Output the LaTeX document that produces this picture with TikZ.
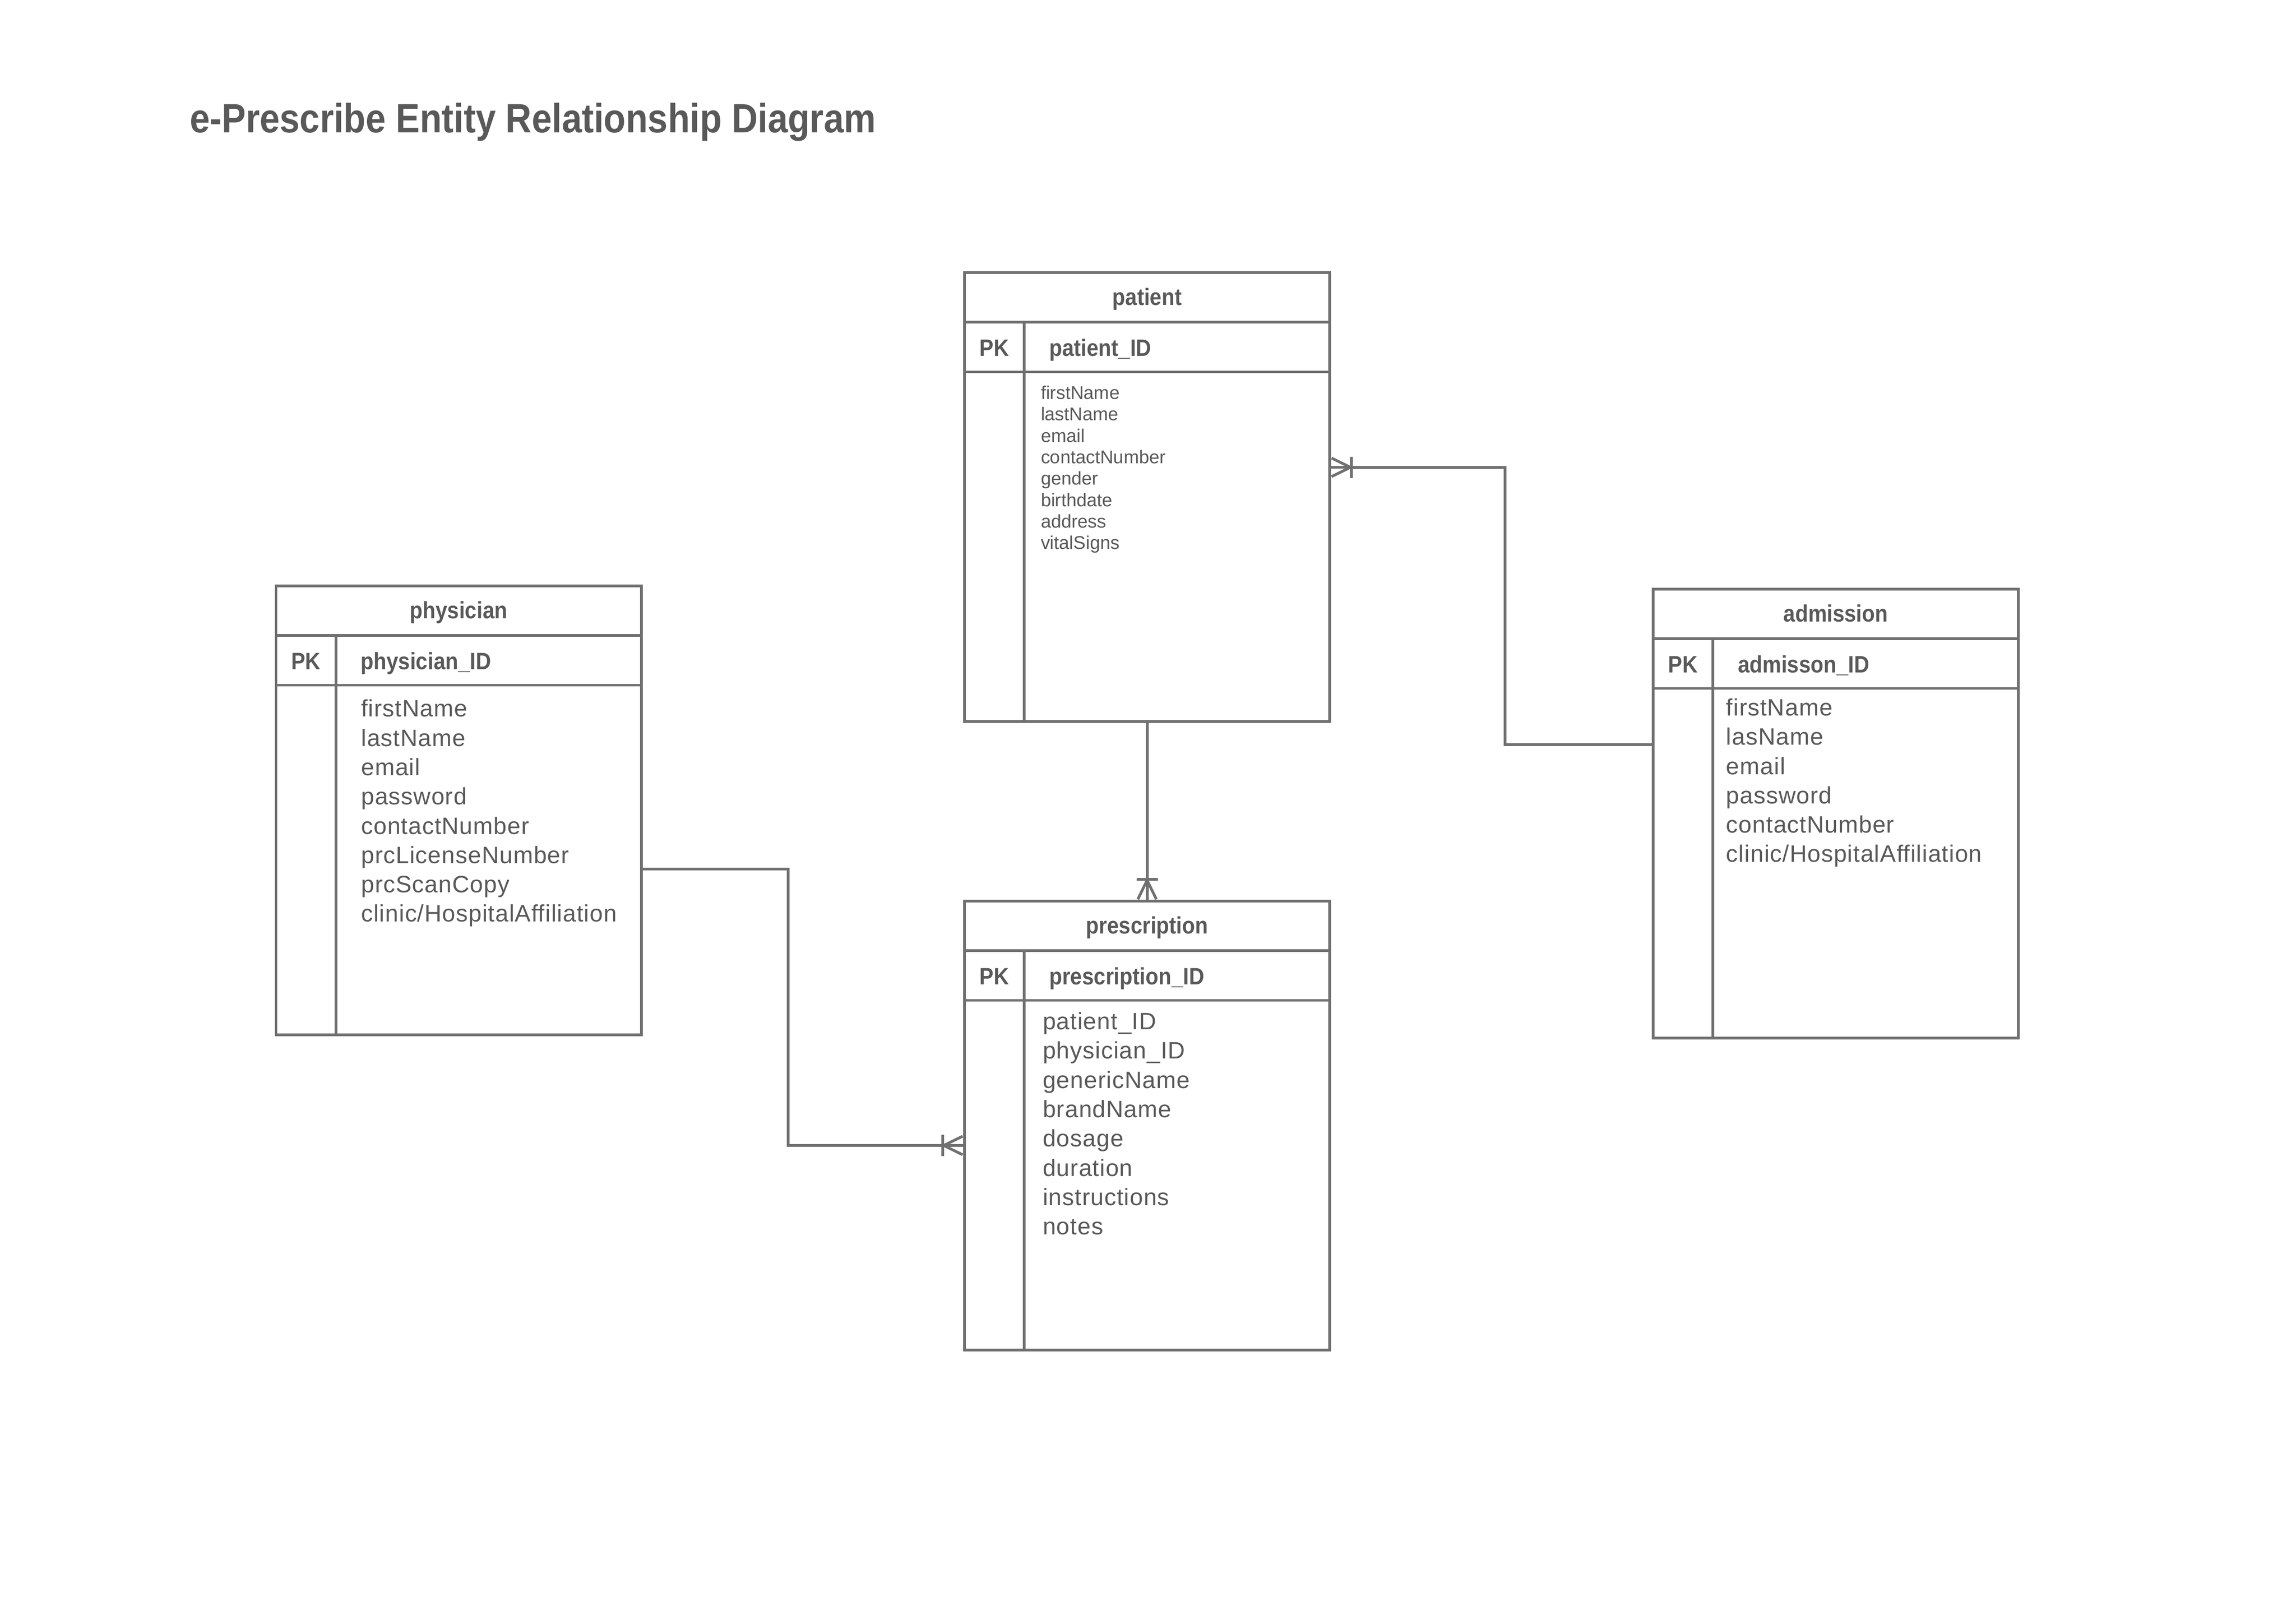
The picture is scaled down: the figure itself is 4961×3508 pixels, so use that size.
\documentclass[tikz,border=0pt]{standalone}
\usepackage{fontspec}
\setmainfont{Liberation Sans}
\newfontfamily\condfont{Liberation Sans}[FakeStretch=0.89]
\newfontfamily\titlefont{Liberation Sans}[FakeStretch=0.88]
\newfontfamily\attrfont{Liberation Sans}[LetterSpace=2.5]
\definecolor{linegray}{RGB}{112,112,112}
\definecolor{inkgray}{RGB}{89,89,89}
\begin{document}
\begin{tikzpicture}[x=0.1697pt, y=-0.1697pt,
  erline/.style={draw=linegray, line width=1pt},
  entity/.style={erline, rectangle, anchor=north west, minimum width=133.9pt,
    minimum height=164.6pt, inner sep=0pt, outer sep=0pt},
  txt/.style={inner sep=0pt, outer sep=0pt, anchor=base west, text=inkgray},
  head/.style={txt, font=\condfont\bfseries\fontsize{8.7}{10}\selectfont},
  attr/.style={txt, font=\attrfont\fontsize{8.7}{10}\selectfont},
  tinyattr/.style={txt, font=\fontsize{6.75}{8}\selectfont},
  pics/crowfoot/.style={code={
    \draw[erline] (-47,-23) -- (-47,23);
    \draw[erline] (-4,-20) -- (-45,0) -- (-4,20);}}]
  \useasboundingbox (0,0) rectangle (4961,3508);
  \node[head, font=\titlefont\bfseries\fontsize{15}{18}\selectfont] (title) at (410,286)
    {e-Prescribe Entity Relationship Diagram};
  \foreach \ent/\x/\y/\ttl/\pkey in {
    patient/2084/589/patient/patient\_ID,
    physician/596.5/1266/physician/physician\_ID,
    prescription/2084/1947/prescription/prescription\_ID,
    admission/3572/1273/admission/admisson\_ID} {
    \node[entity] (\ent) at (\x,\y) {};
    \draw[erline] ([yshift=-18.2pt]\ent.north west) -- ([yshift=-18.2pt]\ent.north east);
    \draw[erline] ([yshift=-36.4pt]\ent.north west) -- ([yshift=-36.4pt]\ent.north east);
    \draw[erline] ([xshift=21.9pt,yshift=-18.2pt]\ent.north west) -- ([xshift=21.9pt]\ent.south west);
    \node[head, anchor=base] (\ent-t) at ([yshift=-11.9pt]\ent.north) {\ttl};
    \node[head, anchor=base] (\ent-pk) at ([xshift=10.95pt,yshift=-30.7pt]\ent.north west) {PK};
    \node[head] (\ent-key) at ([xshift=31.1pt,yshift=-30.7pt]\ent.north west) {\pkey};
  }
  \foreach \a [count=\i from 0] in {firstName, lastName, email, contactNumber,
    gender, birthdate, address, vitalSigns}
    \node[tinyattr] (patient-a\i) at ([xshift=28pt,yshift={-46.4pt-7.86pt*\i}]patient.north west) {\a};
  \foreach \a [count=\i from 0] in {firstName, lastName, email, password, contactNumber,
    prcLicenseNumber, prcScanCopy, clinic/HospitalAffiliation}
    \node[attr] (physician-a\i) at ([xshift=31.2pt,yshift={-48pt-10.74pt*\i}]physician.north west) {\a};
  \foreach \a [count=\i from 0] in {patient\_ID, physician\_ID, genericName, brandName,
    dosage, duration, instructions, notes}
    \node[attr] (prescription-a\i) at ([xshift=28.7pt,yshift={-47.1pt-10.74pt*\i}]prescription.north west) {\a};
  \foreach \a [count=\i from 0] in {firstName, lasName, email, password, contactNumber,
    clinic/HospitalAffiliation}
    \node[attr] (admission-a\i) at ([xshift=26.8pt,yshift={-46.4pt-10.74pt*\i}]admission.north west) {\a};
  \coordinate (admbend) at (3252,1010);
  \coordinate (phybend) at (1703,2475);
  \draw[erline] (patient.south) -- (prescription.north);
  \draw[erline] ([yshift=25.3pt]admission.west) -| (admbend) -- ([yshift=10.9pt]patient.east);
  \draw[erline] ([yshift=-21.5pt]physician.east) -| (phybend) -- ([yshift=-7.3pt]prescription.west);
  \pic[rotate=-90] at (prescription.north) {crowfoot};
  \pic[rotate=180] at ([yshift=10.9pt]patient.east) {crowfoot};
  \pic at ([yshift=-7.3pt]prescription.west) {crowfoot};
\end{tikzpicture}
\end{document}
